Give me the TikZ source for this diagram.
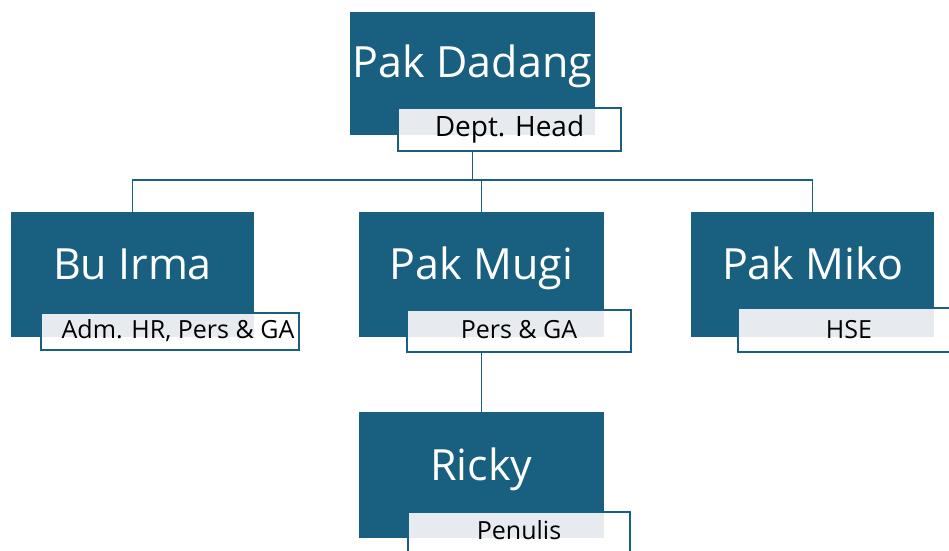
\documentclass[tikz,border=0pt]{standalone}
\usepackage{fontspec}
\setmainfont{Open Sans}
\definecolor{navy}{HTML}{185F80}
\definecolor{pale}{HTML}{E7EBEF}
\begin{document}
\begin{tikzpicture}[x=1pt,y=-1pt,
 darkbox/.style={draw=none, fill=navy, inner sep=0, outer sep=0, anchor=north west},
 subbox/.style={draw=navy, line width=1.8pt, fill=white, inner sep=0, outer sep=0, anchor=north west},
 nametext/.style={text=white, font=\fontsize{43}{43}\selectfont, anchor=base, inner sep=0},
 subtext/.style={text=black, font=\fontsize{25}{25}\selectfont, anchor=base, inner sep=0},
 bigsubtext/.style={subtext, font=\fontsize{28}{28}\selectfont},
 link/.style={draw=navy, line width=1.8pt},
 overlay/.style={fill=pale}]
\useasboundingbox (0,0) rectangle (949,550);
\clip (0,0) rectangle (949,550);
% subtitle boxes
\node[subbox, minimum width=223pt, minimum height=43pt] (dadangsub) at (398,108) {};
\node[subbox, minimum width=258pt, minimum height=37pt] (irmasub) at (41,313) {};
\node[subbox, minimum width=224pt, minimum height=42pt] (mugisub) at (407,310) {};
\node[subbox, minimum width=222pt, minimum height=44pt] (mikosub) at (738,308) {};
\node[subbox, minimum width=222pt, minimum height=44pt] (rickysub) at (408,512) {};
% dark boxes
\node[darkbox, minimum width=245pt, minimum height=123pt] (dadang) at (350,12) {};
\node[darkbox, minimum width=243pt, minimum height=125pt] (irma) at (11,212) {};
\node[darkbox, minimum width=245pt, minimum height=125pt] (mugi) at (359,212) {};
\node[darkbox, minimum width=243pt, minimum height=125pt] (miko) at (691,212) {};
\node[darkbox, minimum width=245pt, minimum height=126pt] (ricky) at (359,412) {};
% overlaps
\foreach \n in {dadang,irma,mugi,miko,ricky}{
  \fill[overlay] ([xshift=0.9pt,yshift=-0.9pt]\n sub.north west) rectangle (\n.south east);
}
% names
\node[nametext] (dadangname) at ([yshift=-65pt]dadang.north) {Pak Dadang};
\node[nametext] (irmaname) at ([yshift=-67pt]irma.north) {Bu Irma};
\node[nametext] (muginame) at ([yshift=-67pt]mugi.north) {Pak Mugi};
\node[nametext] (mikoname) at ([yshift=-67pt]miko.north) {Pak Miko};
\node[nametext] (rickyname) at ([yshift=-68pt]ricky.north) {Ricky};
% roles
\node[bigsubtext] (dadangrole) at ([yshift=-1.5pt]dadangsub.center |- dadang.south) {Dept. Head};
\node[subtext] (irmarole) at ([xshift=8pt,yshift=-1pt]irmasub.center |- irma.south) {Adm. HR, Pers \& GA};
\node[subtext] (mugirole) at ([yshift=-1pt]mugisub.center |- mugi.south) {Pers \& GA};
\node[subtext] (mikorole) at ([yshift=-1pt]mikosub.center |- miko.south) {HSE};
\node[subtext] (rickyrole) at ([yshift=-1pt]rickysub.center |- ricky.south) {Penulis};
% connectors
\coordinate (bus) at (0,180);
\draw[link] (dadang.south |- dadangsub.south) -- (dadang.south |- bus);
\draw[link] (irma.north) -- (irma.north |- bus) -- (miko.north |- bus) -- (miko.north);
\draw[link] (mugi.north) -- (mugi.north |- bus);
\draw[link] (mugi.south |- mugisub.south) -- (ricky.north);
\end{tikzpicture}
\end{document}
